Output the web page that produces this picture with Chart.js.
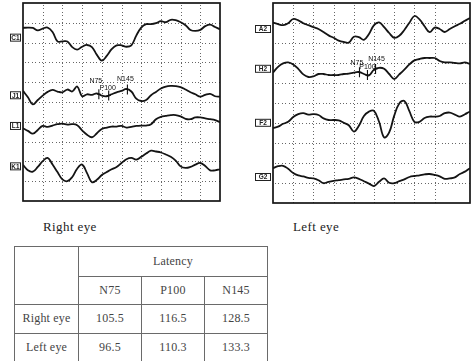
<!DOCTYPE html>
<html>
<head>
<meta charset="utf-8">
<script src="https://cdn.jsdelivr.net/npm/chart.js@4.4.1/dist/chart.umd.min.js"></script>
<style>
  body { margin: 0; background: #fff; width: 474px; height: 361px; overflow: hidden; position: relative;
         font-family: "Liberation Serif", "DejaVu Serif", serif; }
  canvas { position: absolute; }
  .caption { position: absolute; font-size: 13px; letter-spacing: 0.4px; color: #222; line-height: 1; }
  table { position: absolute; left: 14px; top: 246px; border-collapse: collapse; color: #444;
          font-size: 12px; letter-spacing: 0.2px; }
  td { border: 1px solid #6a6a6a; text-align: center; padding: 0; height: 27.5px; }
</style>
</head>
<body>
<canvas id="rightEye" width="224" height="214" style="left:0;top:0"></canvas>
<canvas id="leftEye" width="230" height="216" style="left:244px;top:0"></canvas>
<div class="caption" style="left:43px;top:220px">Right eye</div>
<div class="caption" style="left:293px;top:220px">Left eye</div>
<table id="latTable"></table>

<script>
// time axis (ms), one sample every 5 ms
const timeMs = [0,5,10,15,20,25,30,35,40,45,50,55,60,65,70,75,80,85,90,95,100,
                105,110,115,120,125,130,135,140,145,150,155,160,165,170,175,180,185,190,195,200];

// right eye channels (values in grid divisions, 0 = bottom of panel)
const c1 = [8.74,8.76,8.74,8.62,8.71,8.76,8.54,8.06,8.06,8.06,7.77,7.65,7.79,7.88,7.77,7.38,7.09,7.33,7.67,7.86,
            7.86,7.79,7.86,8.35,8.76,8.93,8.93,8.98,9.08,9.03,9.15,9.13,9.03,8.88,8.64,8.59,8.64,8.83,8.91,8.79,8.67];
const j1 = [5.56,5.24,4.88,5.10,5.32,5.51,5.61,5.53,5.49,5.63,5.53,5.78,5.29,5.39,5.36,5.44,5.32,5.29,5.39,5.49,
            5.56,5.66,5.53,5.17,5.05,5.10,5.34,5.51,5.68,5.78,5.81,5.80,5.75,5.63,5.49,5.39,5.27,5.36,5.41,5.29,5.27];
const l1 = [3.67,3.54,3.40,3.59,3.79,3.74,3.81,3.88,3.91,3.86,3.88,3.83,3.57,3.35,3.22,3.42,3.64,3.71,3.76,3.76,
            3.79,3.71,3.74,3.79,3.81,3.81,3.88,4.13,4.25,4.30,4.34,4.34,4.27,4.15,4.13,4.22,4.22,4.17,4.13,4.08,3.98];
const k1 = [1.82,1.55,1.48,1.72,2.01,2.18,1.84,1.46,1.09,1.00,1.21,1.63,1.84,1.41,0.95,1.07,1.31,1.46,1.60,1.72,
            1.92,2.11,2.18,2.09,2.23,2.40,2.54,2.50,2.45,2.35,2.23,2.04,1.75,1.67,1.72,1.84,1.92,1.77,1.55,1.55,1.60];

// left eye channels
const a2 = [9.02,8.94,8.89,8.99,9.20,9.13,8.99,8.89,8.79,8.70,8.55,8.38,8.26,8.12,8.05,8.02,8.31,8.29,8.16,8.45,
            8.89,9.03,8.79,8.50,8.26,8.36,8.65,9.01,9.35,9.18,8.84,8.54,8.77,8.70,8.55,8.70,8.84,8.96,9.11,9.25,9.37];
const h2 = [6.52,6.81,6.98,7.03,6.93,6.71,6.43,6.30,6.33,6.45,6.45,6.40,6.40,6.40,6.45,6.47,6.52,6.55,6.45,6.38,
            6.67,6.76,6.71,6.45,6.20,6.43,6.67,6.93,7.13,7.20,7.25,7.25,7.25,7.10,7.03,7.03,7.00,6.98,7.03,6.96,6.96];
const f2 = [3.74,3.82,3.96,4.06,4.30,4.44,4.49,4.42,4.44,4.40,4.23,4.15,4.15,4.13,4.01,3.89,3.57,3.86,4.35,4.57,
            4.61,4.06,3.28,3.53,4.37,4.98,5.10,4.59,4.06,4.06,4.25,4.32,4.32,4.35,4.49,4.52,4.42,4.32,4.44,4.57,4.64];
const g2 = [1.74,1.84,1.86,1.71,1.50,1.38,1.33,1.26,1.23,1.14,0.99,1.06,1.11,1.14,1.18,1.21,1.28,1.21,1.09,0.97,
            0.85,1.06,1.23,1.01,0.99,1.09,1.18,1.30,1.35,1.38,1.43,1.45,1.40,1.33,1.21,1.23,1.28,1.45,1.57,1.74,1.84];

// channel names and where their labels sit (grid divisions)
const rightNames = ["C1", "J1", "L1", "K1"];
const rightLabelAt = [8.25, 5.34, 3.79, 1.75];
const leftNames = ["A2", "H2", "F2", "G2"];
const leftLabelAt = [8.70, 6.71, 4.01, 1.30];

// peak markers as placed on the traces (ms)
const peakNames = ["N75", "P100", "N145"];
const rightPeakMs = [77, 87, 106];
const leftPeakMs = [85.6, 93.5, 101.5];

// table
const latencyCols = ["N75", "P100", "N145"];
const latencyRows = ["Right eye", "Left eye"];
const rightLatency = [105.5, 116.5, 128.5];
const leftLatency = [96.5, 110.3, 133.3];

function valueAt(data, t) {
  for (let i = 0; i < timeMs.length - 1; i++) {
    if (t >= timeMs[i] && t <= timeMs[i + 1]) {
      const f = (t - timeMs[i]) / (timeMs[i + 1] - timeMs[i]);
      return data[i] + f * (data[i + 1] - data[i]);
    }
  }
  return data[data.length - 1];
}

const panelDecor = {
  id: "panelDecor",
  beforeDatasetsDraw(chart) {
    // dotted grid, one dot every ~3.4 px
    const { ctx, chartArea: a, scales: { x, y } } = chart;
    ctx.save();
    ctx.fillStyle = "#666";
    x.ticks.forEach((tk) => {
      const px = Math.round(x.getPixelForValue(tk.value));
      if (px <= a.left + 2 || px >= a.right - 2) return;
      for (let py = a.top + 2; py < a.bottom; py += 3.4) ctx.fillRect(px, Math.round(py), 1, 1);
    });
    y.ticks.forEach((tk) => {
      const py = Math.round(y.getPixelForValue(tk.value));
      if (py <= a.top + 2 || py >= a.bottom - 2) return;
      for (let px = a.left + 2; px < a.right; px += 3.4) ctx.fillRect(Math.round(px), py, 1, 1);
    });
    ctx.restore();
  },
  afterDatasetsDraw(chart, args, o) {
    const { ctx, chartArea: a, scales: { x, y } } = chart;
    ctx.save();
    ctx.strokeStyle = "#151515";
    ctx.lineWidth = 1.7;
    ctx.strokeRect(a.left, a.top, a.right - a.left, a.bottom - a.top);

    // channel tags
    ctx.font = o.tagFont;
    ctx.textBaseline = "middle";
    ctx.textAlign = "center";
    o.names.forEach((n, i) => {
      const cy = y.getPixelForValue(o.labelAt[i]);
      const w = o.tagW, h = 7;
      const x0 = a.left - 3 - w;
      ctx.fillStyle = "#fff";
      ctx.fillRect(x0, cy - h / 2, w, h);
      ctx.lineWidth = 1;
      ctx.strokeStyle = "#222";
      ctx.strokeRect(x0 + 0.5, cy - h / 2, w, h);
      ctx.fillStyle = "#222";
      ctx.fillText(n, x0 + w / 2 + 0.5, cy + 0.5);
    });

    // peak markers
    const trace = chart.data.datasets[o.markTrace].data;
    ctx.font = "7px 'Liberation Sans', Arial, sans-serif";
    o.markMs.forEach((t, i) => {
      const px = x.getPixelForValue(t);
      const py = y.getPixelForValue(valueAt(trace, t));
      ctx.strokeStyle = "#111";
      ctx.lineWidth = 1.1;
      ctx.beginPath();
      ctx.moveTo(px, py - 5);
      ctx.lineTo(px, py + 5);
      ctx.moveTo(px - 2, py);
      ctx.lineTo(px + 2, py);
      ctx.stroke();
      ctx.fillStyle = "#111";
      ctx.fillText(peakNames[i], px + o.markOff[i][0], py + o.markOff[i][1]);
    });
    ctx.restore();
  }
};

function makePanel(id, traces, xMax, decor) {
  return new Chart(document.getElementById(id), {
    type: "line",
    data: {
      labels: timeMs,
      datasets: traces.map((d) => ({
        data: d,
        borderColor: "#141414",
        borderWidth: 1.8,
        pointRadius: 0,
        tension: 0.4,
        fill: false,
      })),
    },
    options: {
      responsive: false,
      animation: false,
      events: [],
      layout: { padding: decor.padding },
      plugins: { legend: { display: false }, tooltip: { enabled: false }, panelDecor: decor },
      scales: {
        x: {
          type: "linear", min: 0, max: xMax,
          ticks: { display: false, stepSize: 20 },
          grid: { display: false },
          border: { display: false },
        },
        y: {
          min: 0, max: 10,
          ticks: { display: false, stepSize: 1 },
          grid: { display: false },
          border: { display: false },
        },
      },
    },
    plugins: [panelDecor],
  });
}

makePanel("rightEye", [c1, j1, l1, k1], 200, {
  padding: { left: 15, top: 3, right: 4, bottom: 5 },
  names: rightNames, labelAt: rightLabelAt, tagW: 10,
  tagFont: "bold 6.5px 'Liberation Sans', Arial, sans-serif",
  markTrace: 1, markMs: rightPeakMs, markOff: [[-3, -13], [-1, -7], [-2, -10]],
});

makePanel("leftEye", [a2, h2, f2, g2], 195, {
  padding: { left: 21, top: 3, right: 4, bottom: 5 },
  names: leftNames, labelAt: leftLabelAt, tagW: 15,
  tagFont: "bold 6.5px 'Liberation Sans', Arial, sans-serif",
  markTrace: 1, markMs: leftPeakMs, markOff: [[-2.5, -9.5], [0, -8], [1, -10]],
});

// latency table
const tbl = document.getElementById("latTable");
let html = `<tr><td rowspan="2" style="width:63px"></td><td colspan="3" style="height:28.5px">Latency</td></tr>`;
html += `<tr>${latencyCols.map((c) => `<td style="width:62px">${c}</td>`).join("")}</tr>`;
[rightLatency, leftLatency].forEach((vals, r) => {
  html += `<tr><td>${latencyRows[r]}</td>${vals.map((v) => `<td>${v.toFixed(1)}</td>`).join("")}</tr>`;
});
tbl.innerHTML = html;
</script>
</body>
</html>
